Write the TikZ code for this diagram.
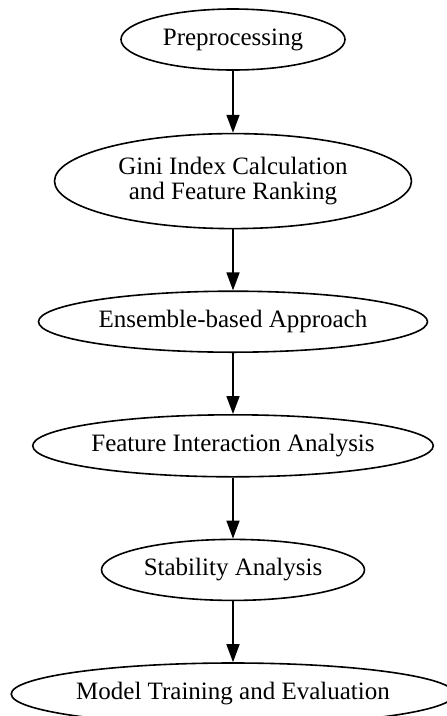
\documentclass[tikz,border=0pt]{standalone}
\usepackage{fontspec}
\setmainfont{Liberation Serif}
\usetikzlibrary{shapes,positioning,arrows.meta}

\begin{document}
\begin{tikzpicture}[x=1pt,y=-1pt]
     \useasboundingbox (0,0) rectangle (447,716);
     \tikzstyle{every node}=[draw,ellipse,line width=1.6pt,inner sep=0pt,minimum height=61pt,font=\fontsize{25}{25.5}\selectfont,align=center]
     \tikzstyle{flow}=[line width=1.6pt,-{Triangle[length=18pt,width=13pt]}]
     \node[minimum width=224pt] at (233,39.5)(pre){Preprocessing};
     \node[minimum width=357pt,minimum height=95pt,below=62pt of pre](gini){Gini Index Calculation\\and Feature Ranking};
     \node[minimum width=389pt,below=61pt of gini](ens){Ensemble-based Approach};
     \node[minimum width=398pt,minimum height=62pt,below=61pt of ens](inter){Feature Interaction Analysis};
     \node[minimum width=263pt,below=61pt of inter](stab){Stability Analysis};
     \node[minimum width=436pt,minimum height=62pt,below=61pt of stab](model){Model Training and Evaluation};
     \path[flow](pre)edge(gini);
     \path[flow](gini)edge(ens);
     \path[flow](ens)edge(inter);
     \path[flow](inter)edge(stab);
     \path[flow](stab)edge(model);
\end{tikzpicture}
\end{document}
